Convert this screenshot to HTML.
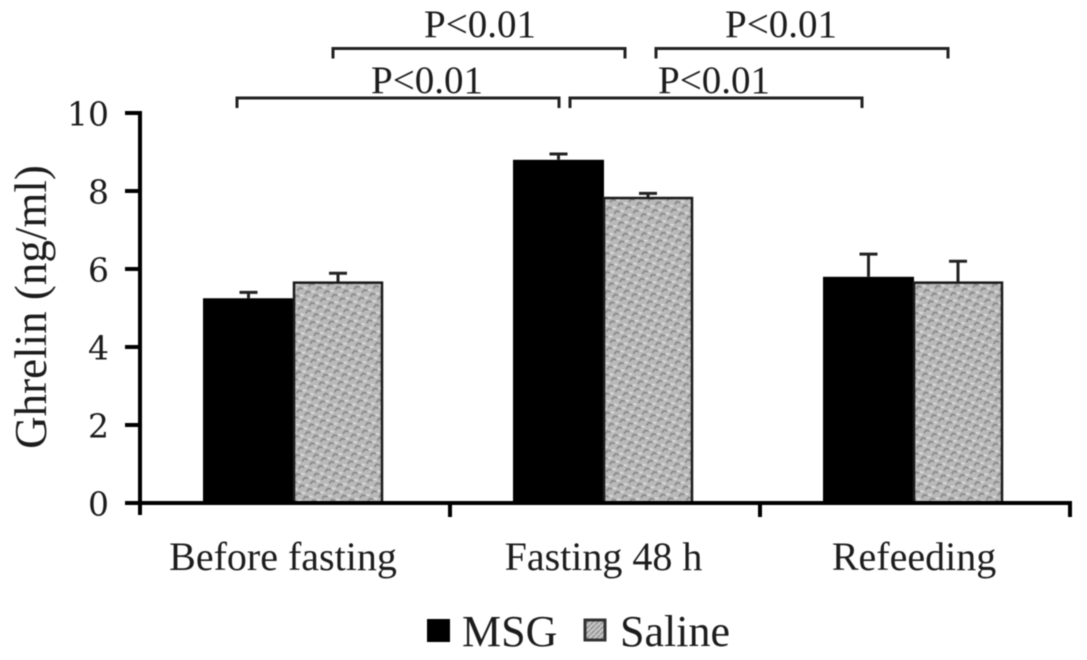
<!DOCTYPE html>
<html lang="en">
<head>
<meta charset="utf-8">
<title>Ghrelin chart</title>
<style>
html,body{margin:0;padding:0;background:#fff;}
svg{display:block;font-family:"Liberation Serif",serif;fill:#1c1c1c;filter:blur(0.5px);}
</style>
</head>
<body>
<svg id="chart" width="1087" height="660" viewBox="0 0 1087 660" xmlns="http://www.w3.org/2000/svg">
  <defs>
    <pattern id="hatch" width="12" height="12" patternUnits="userSpaceOnUse" patternTransform="rotate(-20)">
      <rect width="12" height="12" fill="#b9b9b9"/>
      <path d="M0 3 L3 1 L6 3 M6 9 L9 7 L12 9" fill="none" stroke="#8a8a8a" stroke-width="1.8"/>
      <path d="M7 2 L10 4 M1 8 L4 10" fill="none" stroke="#dcdcdc" stroke-width="1.8"/>
    </pattern>
    <pattern id="legend-hatch" width="5" height="5" patternUnits="userSpaceOnUse">
      <rect width="5" height="5" fill="#c4c4c4"/>
      <path d="M0 5 L5 0" stroke="#8a8a8a" stroke-width="1.2"/>
    </pattern>
  </defs>
  <g id="bars"></g>
  <g id="axes"></g>
  <g id="brackets"></g>
  <text transform="translate(46,307) rotate(-90)" text-anchor="middle" font-size="45">Ghrelin (ng/ml)</text>
  <g>
    <rect x="427" y="619" width="23" height="23" fill="#000"/>
    <text x="462" y="646" font-size="44">MSG</text>
    <rect x="585" y="620" width="20" height="20" fill="url(#legend-hatch)" stroke="#333" stroke-width="3"/>
    <text x="620" y="646" font-size="44">Saline</text>
  </g>
</svg>
<script>
const categories = ["Before fasting", "Fasting 48 h", "Refeeding"];
const msgValues = [5.25, 8.8, 5.8];
const msgErrors = [0.15, 0.15, 0.58];
const salineValues = [5.65, 7.82, 5.65];
const salineErrors = [0.24, 0.12, 0.55];
const yTicks = [0, 2, 4, 6, 8, 10];
const comparisonLabels = ["P<0.01", "P<0.01", "P<0.01", "P<0.01"];

const NS = "http://www.w3.org/2000/svg";
const plotLeft = 140, bandWidth = 310, baseY = 503, unit = 39;
const y = v => baseY - v * unit;
const bandX = i => plotLeft + i * bandWidth;
const msgX = i => bandX(i) + 63;
const salineX = i => bandX(i) + 154;
const msgW = 91, salineW = 88;
const labelCenters = [283, 603.5, 914];
const bracketLayout = [
  { x1: 237, x2: 559, y: 98, textX: 427, textY: 93 },
  { x1: 570, x2: 862, y: 98, textX: 714, textY: 93 },
  { x1: 333, x2: 625, y: 48.5, textX: 480, textY: 37 },
  { x1: 656, x2: 948, y: 48.5, textX: 781, textY: 37 }
];

function make(parent, tag, attrs, text) {
  const el = document.createElementNS(NS, tag);
  for (const k in attrs) el.setAttribute(k, attrs[k]);
  if (text !== undefined) el.textContent = text;
  parent.appendChild(el);
  return el;
}
function errorBar(parent, cx, value, err) {
  return make(parent, "path", {
    d: `M${cx} ${y(value)} V${y(value + err)} M${cx - 9} ${y(value + err)} H${cx + 9}`,
    fill: "none", stroke: "#222", "stroke-width": 3
  });
}

const barsG = document.getElementById("bars");
categories.forEach((c, i) => {
  const e1 = errorBar(barsG, msgX(i) + msgW / 2, msgValues[i], msgErrors[i]);
  
  
  const e2 = errorBar(barsG, salineX(i) + salineW / 2, salineValues[i], salineErrors[i]);
  
  
  const b1 = make(barsG, "rect", { x: msgX(i), y: y(msgValues[i]), width: msgW, height: msgValues[i] * unit, fill: "#000" });
  
  
  const b2 = make(barsG, "rect", { x: salineX(i), y: y(salineValues[i]), width: salineW, height: salineValues[i] * unit, fill: "url(#hatch)", stroke: "#1a1a1a", "stroke-width": 2.5 });
  
  
});

const axesG = document.getElementById("axes");
const yAxis = make(axesG, "line", { x1: plotLeft, x2: plotLeft, y1: y(10) - 2, y2: baseY + 12, stroke: "#000", "stroke-width": 4 });


const xAxis = make(axesG, "line", { x1: plotLeft - 15, x2: bandX(categories.length) + 2, y1: baseY, y2: baseY, stroke: "#000", "stroke-width": 4 });



yTicks.forEach(t => {
  const tick = make(axesG, "line", { x1: plotLeft - 15, x2: plotLeft, y1: y(t), y2: y(t), stroke: "#000", "stroke-width": 4 });
  
  
  const label = make(axesG, "text", { x: 109, y: y(t) + 12.5, "text-anchor": "end", "font-size": 33, "font-family": '"DejaVu Serif", serif' }, String(t));
  
  
});
categories.forEach((c, i) => {
  const tick = make(axesG, "line", { x1: bandX(i + 1), x2: bandX(i + 1), y1: baseY, y2: baseY + 14, stroke: "#000", "stroke-width": 4 });
  
  
  const label = make(axesG, "text", { x: labelCenters[i], y: 570, "text-anchor": "middle", "font-size": 40 }, c);
  
  
});

const bracketsG = document.getElementById("brackets");
comparisonLabels.forEach((text, i) => {
  const b = bracketLayout[i];
  const p = make(bracketsG, "path", { d: `M${b.x1} ${b.y + 10} V${b.y} H${b.x2} V${b.y + 10}`, fill: "none", stroke: "#222", "stroke-width": 3 });
  
  
  const t = make(bracketsG, "text", { x: b.textX, y: b.textY, "text-anchor": "middle", "font-size": 39 }, text);
  
  
});
</script>
</body>
</html>
